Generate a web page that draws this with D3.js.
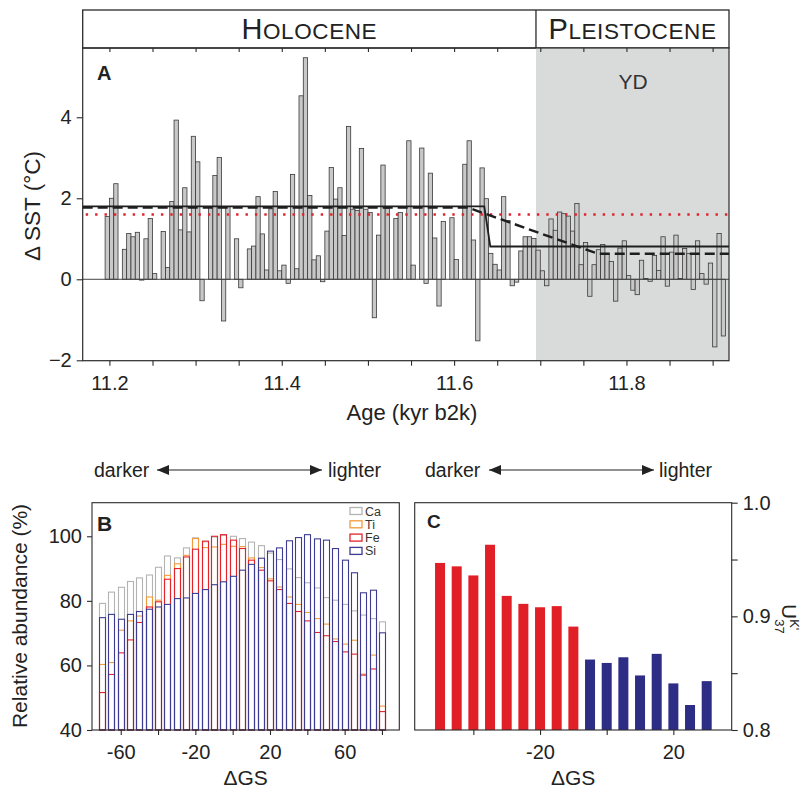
<!DOCTYPE html>
<html><head><meta charset="utf-8">
<script src="https://cdn.jsdelivr.net/npm/d3@7"></script>
<style>
body{margin:0;background:#fff}
svg{display:block}
text{font-family:"Liberation Sans",Arial,Helvetica,sans-serif;fill:#222}
</style>
</head><body>
<svg id="c" width="809" height="797"></svg>
<script>
// ---------- Panel A data (age = bar start, yr b2k; value = ΔSST °C) ----------
const sstAgeYr = [11195,11200,11205,11215,11220,11225,11230,11235,11240,11245,11250,
11260,11265,11270,11275,11280,11285,11290,11295,11300,11305,11315,11320,11325,11330,11335,
11345,11350,11360,11365,11370,11375,11380,11385,11390,11395,11400,11405,11410,11415,11420,
11425,11430,11435,11440,11445,11450,11455,11460,11465,11470,11475,11480,11485,11490,11495,
11500,11505,11510,11515,11520,11530,11535,11545,11550,11560,11565,11570,11575,11580,11585,
11595,11600,11610,11615,11620,11625,11630,11635,11640,11645,11650,11655,11660,11665,11670,
11675,11680,11685,11690,11695,11700,11705,11710,11715,11720,11725,11730,11735,11740,11745,
11750,11755,11760,11765,11770,11775,11780,11785,11790,11795,11800,11805,11810,11815,11820,
11825,11830,11835,11840,11845,11850,11855,11860,11865,11870,11875,11880,11885,11890,11895,
11900,11905,11910];
const sstAnomaly = [1.55,2.00,2.36,0.74,1.13,1.05,1.16,-0.02,1.00,1.50,0.14,
1.18,0.29,1.92,3.93,1.22,2.26,1.17,3.53,2.90,-0.53,1.79,2.56,3.01,-1.03,1.79,
1.00,-0.21,0.75,0.82,2.04,1.12,0.23,1.74,2.17,0.21,0.35,-0.10,2.59,0.26,4.53,
5.47,2.07,0.48,0.58,-0.06,1.19,2.76,1.98,2.26,1.08,3.77,1.73,1.70,3.23,1.73,
1.65,-0.95,1.09,2.82,1.75,1.50,1.65,3.42,0.35,3.24,-0.10,2.62,1.02,-0.66,1.43,
1.52,0.49,2.84,3.42,0.97,-1.52,2.75,1.99,0.64,0.37,0.23,2.04,1.45,-0.16,-0.07,
0.70,1.05,1.05,1.01,0.72,0.21,-0.16,1.49,1.21,1.66,1.62,1.56,1.19,1.87,0.36,
0.91,-0.42,0.36,0.73,0.86,0.63,0.44,-0.54,0.77,0.95,0.09,-0.27,-0.38,0.47,0.02,
-0.05,0.59,0.22,1.05,-0.17,0.67,1.09,0.02,0.76,0.64,-0.25,0.95,0.14,-0.12,0.40,
-1.67,1.13,-1.40];
const sstBinYr = 5;
const solidFitAge = [11.169, 11.635, 11.642, 11.919];
const solidFitValue = [1.80, 1.80, 0.81, 0.81];
const dashedFitAge = [11.169, 11.616, 11.767, 11.919];
const dashedFitValue = [1.77, 1.77, 0.63, 0.63];
const dottedLevel = 1.6;
const ydStartAge = 11.695;
const ageTicks = [11.2,11.25,11.3,11.35,11.4,11.45,11.5,11.55,11.6,11.65,11.7,11.75,11.8,11.85,11.9];
const ageLabels = [11.2,11.4,11.6,11.8];
const sstTicks = [-2,0,2,4];

// ---------- Panel B data ----------
const gsB = [-70,-65,-60,-55,-50,-45,-40,-35,-30,-25,-20,-15,-10,-5,0,5,10,15,20,25,30,35,40,45,50,55,60,65,70,75,80];
const caAb = [79.2,82.7,84.2,86.0,87.1,88.0,90.4,93.9,93.3,96.4,99.5,98.3,99.8,100.3,100.0,99.3,98.2,97.1,94.8,92.8,89.9,87.2,85.6,84.0,81.0,80.2,78.9,76.9,75.6,74.5,73.5];
const tiAb = [60.3,60.9,70.9,73.8,75.3,81.2,80.2,87.9,91.5,94.1,99.3,96.5,96.7,97.5,96.9,96.8,93.3,90.3,86.8,84.3,81.2,78.9,76.4,74.5,72.8,68.2,66.6,67.8,57.3,63.2,47.4];
const feAb = [51.6,57.2,63.9,67.9,73.3,78.1,79.7,86.7,90.0,93.6,96.0,98.5,100.0,100.5,98.8,96.2,92.6,89.5,86.2,83.5,79.2,76.7,73.8,70.2,69.2,67.4,64.2,63.5,57.0,58.9,45.7];
const siAb = [74.8,75.8,74.3,75.8,76.7,77.4,78.1,78.9,80.7,80.9,82.3,83.5,85.0,85.9,87.6,89.5,91.3,93.2,95.4,96.4,98.6,99.6,100.5,99.2,98.8,96.2,92.6,88.7,82.5,83.3,70.1];
const elements = ["Ca","Ti","Fe","Si"];
const gsBTicks = [-60,-40,-20,0,20,40,60,80];
const gsBLabels = [-60,-20,20,60];
const abTicks = [40,60,80,100];

// ---------- Panel C data ----------
const gsC = [-50,-45,-40,-35,-30,-25,-20,-15,-10,-5,0,5,10,15,20,25,30];
const uk37 = [0.947,0.944,0.936,0.963,0.918,0.911,0.908,0.909,0.891,0.862,0.859,0.864,0.848,0.867,0.841,0.822,0.843];
const ukGroup = ["Fe","Fe","Fe","Fe","Fe","Fe","Fe","Fe","Fe","Si","Si","Si","Si","Si","Si","Si","Si"];
const gsCTicks = [-40,-20,0,20];
const gsCLabels = [-20,20];
const ukTicks = [0.8,0.85,0.9,0.95,1.0];
const ukLabels = [0.8,0.9,1.0];

// ---------- styles ----------
const FONT = '"Liberation Sans",Arial,Helvetica,sans-serif';
const ink = "#2a2a2a";
const elColor = {Ca:"#b3b3b3", Ti:"#f29b3c", Fe:"#e3222b", Si:"#3d3c92"};
const ukColor = {Fe:"#e11f26", Si:"#2e2d86"};

const svg = d3.select("#c");

// ================= PANEL A =================
const xA = d3.scaleLinear().domain([11.169, 11.919]).range([82.7, 729]);
const yA = d3.scaleLinear().domain([-2.01, 5.71]).range([360.7, 48]);
const gA = svg.append("g");

// header
const hdrTop = 10, hdrBot = yA.range()[1];
gA.append("rect").attr("x", xA.range()[0]).attr("y", hdrTop)
  .attr("width", xA.range()[1]-xA.range()[0]).attr("height", hdrBot-hdrTop)
  .attr("fill","#fff").attr("stroke", ink).attr("stroke-width",1.3);
gA.append("line").attr("x1", xA(ydStartAge)).attr("x2", xA(ydStartAge))
  .attr("y1", hdrTop).attr("y2", hdrBot).attr("stroke", ink).attr("stroke-width",1.3);
function smallCaps(g, x, y, first, rest){
  const t = g.append("text").attr("x",x).attr("y",y).attr("text-anchor","middle")
    .style("font-family",FONT).style("letter-spacing","0.6px");
  t.append("tspan").style("font-size","29px").text(first);
  t.append("tspan").style("font-size","22.5px").text(rest);
}
smallCaps(gA, (xA.range()[0]+xA(ydStartAge))/2, 39, "H", "OLOCENE");
smallCaps(gA, (xA(ydStartAge)+xA.range()[1])/2, 39, "P", "LEISTOCENE");

// YD shading
gA.append("rect").attr("x", xA(ydStartAge)).attr("y", yA.range()[1])
  .attr("width", xA.range()[1]-xA(ydStartAge)).attr("height", yA.range()[0]-yA.range()[1])
  .attr("fill","#d9dbdb");
gA.append("text").attr("x", 633).attr("y", 89).attr("text-anchor","middle")
  .style("font-size","21px").style("fill","#333").text("YD");

// bars
const sstData = sstAgeYr.map((a,i)=>({a, v: sstAnomaly[i]}));
gA.append("g").selectAll("rect").data(sstData).join("rect")
  .attr("x", d=>xA(d.a/1000))
  .attr("width", d=>xA((d.a+sstBinYr)/1000)-xA(d.a/1000))
  .attr("y", d=>yA(Math.max(0,d.v)))
  .attr("height", d=>Math.abs(yA(d.v)-yA(0)))
  .attr("fill","#c8c8c8").attr("stroke","#3a3a3a").attr("stroke-width",0.8);

// zero line
gA.append("line").attr("x1", xA.range()[0]).attr("x2", xA.range()[1])
  .attr("y1", yA(0)).attr("y2", yA(0)).attr("stroke","#444").attr("stroke-width",1);

// red dotted
gA.append("line").attr("x1", xA.range()[0]+3).attr("x2", xA.range()[1])
  .attr("y1", yA(dottedLevel)).attr("y2", yA(dottedLevel))
  .attr("stroke","#e0232c").attr("stroke-width",2.4).attr("stroke-dasharray","2.4,7");

const lineA = d3.line().x(d=>xA(d[0])).y(d=>yA(d[1]));
gA.append("path").attr("d", lineA(solidFitAge.map((a,i)=>[a, solidFitValue[i]])))
  .attr("fill","none").attr("stroke","#1e1e1e").attr("stroke-width",1.8);
gA.append("path").attr("d", lineA(dashedFitAge.map((a,i)=>[a, dashedFitValue[i]])))
  .attr("fill","none").attr("stroke","#1e1e1e").attr("stroke-width",2.4).attr("stroke-dasharray","10,5");

// frame
gA.append("rect").attr("x", xA.range()[0]).attr("y", yA.range()[1])
  .attr("width", xA.range()[1]-xA.range()[0]).attr("height", yA.range()[0]-yA.range()[1])
  .attr("fill","none").attr("stroke", ink).attr("stroke-width",1.2);

// axes
const axB = gA.append("g").attr("transform",`translate(0,${yA.range()[0]})`)
  .call(d3.axisBottom(xA).tickValues(ageTicks).tickSize(5).tickPadding(5)
    .tickFormat(d=> ageLabels.some(l=>Math.abs(l-d)<1e-6) ? d3.format(".1f")(d) : ""));
axB.select(".domain").remove();
const axTop = gA.append("g").attr("transform",`translate(0,${yA.range()[1]})`)
  .call(d3.axisBottom(xA).tickValues(ageTicks).tickSize(4).tickFormat(""));
axTop.select(".domain").remove();
const axL = gA.append("g").attr("transform",`translate(${xA.range()[0]},0)`)
  .call(d3.axisLeft(yA).tickValues(sstTicks).tickSize(6).tickPadding(5).tickFormat(d3.format("d")));
axL.select(".domain").remove();
[axB, axTop, axL].forEach(a=>{
  a.selectAll("line").attr("stroke", ink).attr("stroke-width",1.1);
  a.selectAll("text").style("font-size","20px").style("font-family",FONT).attr("fill","#222");
});
axB.selectAll("text").attr("dy","0.95em");
gA.append("text").attr("x", 412).attr("y", 420).attr("text-anchor","middle")
  .style("font-size","22px").text("Age (kyr b2k)");
gA.append("text").attr("transform","translate(40,206) rotate(-90)").attr("text-anchor","middle")
  .style("font-size","22.5px").text("Δ SST (°C)");
gA.append("text").attr("x", 97).attr("y", 80).style("font-size","20px").style("font-weight","bold").text("A");

// ================= arrows =================
const defs = svg.append("defs");
defs.append("marker").attr("id","ah").attr("viewBox","0 0 12 10").attr("refX",12).attr("refY",5)
  .attr("markerWidth",12).attr("markerHeight",10).attr("orient","auto-start-reverse")
  .attr("markerUnits","userSpaceOnUse")
  .append("path").attr("d","M0,0L12,5L0,10z").attr("fill","#222");
function arrowRow(xText, xa0, xa1, xText2, y, leftText, rightText){
  svg.append("text").attr("x", xText).attr("y", y+7).style("font-size","19.5px").text(leftText);
  svg.append("line").attr("x1", xa0).attr("x2", xa1).attr("y1", y).attr("y2", y)
    .attr("stroke","#222").attr("stroke-width",1.2)
    .attr("marker-start","url(#ah)").attr("marker-end","url(#ah)");
  svg.append("text").attr("x", xText2).attr("y", y+7).style("font-size","19.5px").text(rightText);
}
arrowRow(94, 157, 322, 328, 470, "darker", "lighter");
arrowRow(425, 489, 654, 659, 470, "darker", "lighter");

// ================= PANEL B =================
const xB = d3.scaleLinear().domain([-75.4, 89.3]).range([92, 399.3]);
const yB = d3.scaleLinear().domain([40, 110.4]).range([730, 502.7]);
const gB = svg.append("g");
const seriesB = {Ca: caAb, Ti: tiAb, Fe: feAb, Si: siAb};
const bwB = 6;
elements.forEach(el=>{
  gB.append("g").selectAll("rect").data(gsB.map((g,i)=>({g, v: seriesB[el][i]}))).join("rect")
    .attr("x", d=>Math.round(xB(d.g)-bwB/2)+0.5).attr("width", bwB)
    .attr("y", d=>yB(d.v)).attr("height", d=>yB(40)-yB(d.v))
    .attr("fill","none").attr("stroke", elColor[el]).attr("stroke-width",1.1);
});
gB.append("rect").attr("x", xB.range()[0]).attr("y", yB.range()[1])
  .attr("width", xB.range()[1]-xB.range()[0]).attr("height", yB.range()[0]-yB.range()[1])
  .attr("fill","none").attr("stroke", ink).attr("stroke-width",1.1);
const bxB = gB.append("g").attr("transform",`translate(0,${yB.range()[0]})`)
  .call(d3.axisBottom(xB).tickValues(gsBTicks).tickSize(5).tickPadding(5)
   .tickFormat(d=> gsBLabels.includes(d) ? d : ""));
const byB = gB.append("g").attr("transform",`translate(${xB.range()[0]},0)`)
  .call(d3.axisLeft(yB).tickValues(abTicks).tickSize(5).tickPadding(5));
[bxB, byB].forEach(a=>{
  a.select(".domain").remove();
  a.selectAll("line").attr("stroke", ink).attr("stroke-width",1.1);
  a.selectAll("text").style("font-size","20px").style("font-family",FONT).attr("fill","#222");
});
bxB.selectAll("text").attr("dy","0.95em");
gB.append("text").attr("x", (xB.range()[0]+xB.range()[1])/2).attr("y", 785).attr("text-anchor","middle")
  .style("font-size","21px").text("ΔGS");
gB.append("text").attr("transform","translate(27,616) rotate(-90)").attr("text-anchor","middle")
  .style("font-size","21px").text("Relative abundance (%)");
gB.append("text").attr("x", 97).attr("y", 531).style("font-size","21px").style("font-weight","bold").text("B");
// legend
const lg = gB.append("g");
elements.forEach((el,i)=>{
  const yy = 511 + i*13.3;
  lg.append("rect").attr("x",350).attr("y",yy-3.5).attr("width",12).attr("height",7)
    .attr("fill","none").attr("stroke",elColor[el]).attr("stroke-width",1.3);
  lg.append("text").attr("x",365).attr("y",yy+4.5).style("font-size","12.5px").style("fill","#333").text(el);
});

// ================= PANEL C =================
const xC = d3.scaleLinear().domain([-57.6, 37.5]).range([414.7, 731.7]);
const yC = d3.scaleLinear().domain([0.8, 1.0]).range([730, 502.7]);
const gC = svg.append("g");
const bwC = 10;
gC.append("g").selectAll("rect").data(gsC.map((g,i)=>({g, v: uk37[i], c: ukGroup[i]}))).join("rect")
  .attr("x", d=>xC(d.g)-bwC/2).attr("width", bwC)
  .attr("y", d=>yC(d.v)).attr("height", d=>yC(0.8)-yC(d.v))
  .attr("fill", d=>ukColor[d.c]);
gC.append("rect").attr("x", xC.range()[0]).attr("y", yC.range()[1])
  .attr("width", xC.range()[1]-xC.range()[0]).attr("height", yC.range()[0]-yC.range()[1])
  .attr("fill","none").attr("stroke", ink).attr("stroke-width",1.1);
const cxC = gC.append("g").attr("transform",`translate(0,${yC.range()[0]})`)
  .call(d3.axisBottom(xC).tickValues(gsCTicks).tickSize(5).tickPadding(5)
   .tickFormat(d=> gsCLabels.includes(d) ? d : ""));
const cyC = gC.append("g").attr("transform",`translate(${xC.range()[1]},0)`)
  .call(d3.axisRight(yC).tickValues(ukTicks).tickSize(6).tickPadding(5)
   .tickFormat(d=> ukLabels.some(l=>Math.abs(l-d)<1e-6) ? d3.format(".1f")(d) : ""));
[cxC, cyC].forEach(a=>{
  a.select(".domain").remove();
  a.selectAll("line").attr("stroke", ink).attr("stroke-width",1.1);
  a.selectAll("text").style("font-size","20px").style("font-family",FONT).attr("fill","#222");
});
cxC.selectAll("text").attr("dy","0.95em");
gC.append("text").attr("x", (xC.range()[0]+xC.range()[1])/2).attr("y", 785).attr("text-anchor","middle")
  .style("font-size","21px").text("ΔGS");
gC.append("text").attr("x", 427).attr("y", 528).style("font-size","19px").style("font-weight","bold").text("C");
const ul = gC.append("text").attr("transform","translate(782,604) rotate(90)").style("font-size","21px");
ul.append("tspan").text("U");
ul.append("tspan").attr("dy","-8").style("font-size","13px").text("K'");
ul.append("tspan").attr("dx","-11").attr("dy","15").style("font-size","13px").text("37");
</script>
</body></html>
